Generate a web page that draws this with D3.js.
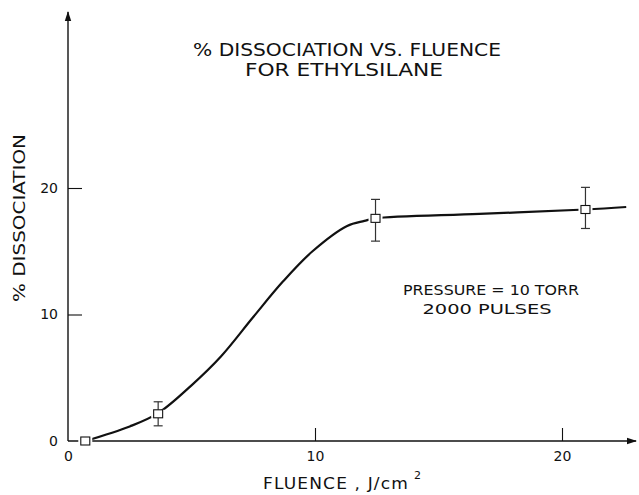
<!DOCTYPE html>
<html>
<head>
<meta charset="utf-8">
<script src="https://cdn.jsdelivr.net/npm/d3@7"></script>
<style>
  body { margin: 0; background: #fff; }
  svg text { font-family: "DejaVu Sans", sans-serif; fill: #111; }
</style>
</head>
<body>
<svg id="chart" width="639" height="495"></svg>
<script>
// measured points with error bars
var fluence  = [0.7, 3.65, 12.45, 20.95];
var dissoc   = [0, 2.15, 17.6, 18.3];
var errLow   = [null, 1.2, 15.8, 16.8];
var errHigh  = [null, 3.1, 19.1, 20.05];

// hand drawn curve
var curveX = [0.7, 2.5, 3.65, 5.0, 6.2, 7.5, 8.7, 9.9, 11.3, 12.0, 12.45, 16.65, 20.95, 22.6];
var curveY = [0, 1.15, 2.2, 4.4, 6.7, 9.8, 12.6, 15.0, 17.0, 17.4, 17.6, 17.95, 18.3, 18.5];

var xTicks = [0, 10, 20];
var yTicks = [0, 10, 20];

var svg = d3.select("#chart");

var x = d3.scaleLinear().domain([0, 20]).range([68, 562]);
var y = d3.scaleLinear().domain([0, 20]).range([441, 188]);

var ink = "#111";

// arrowheads
var defs = svg.append("defs");
defs.append("marker")
    .attr("id", "arrow")
    .attr("viewBox", "0 0 10 10")
    .attr("refX", 9).attr("refY", 5)
    .attr("markerWidth", 10).attr("markerHeight", 8)
    .attr("markerUnits", "userSpaceOnUse")
    .attr("orient", "auto")
    .attr("preserveAspectRatio", "none")
  .append("path")
    .attr("d", "M0,1 L10,5 L0,9 Z")
    .attr("fill", ink);

// axis lines
svg.append("line")
    .attr("x1", x(0)).attr("y1", y(0))
    .attr("x2", x(0)).attr("y2", 12)
    .attr("stroke", ink).attr("stroke-width", 1.4)
    .attr("marker-end", "url(#arrow)");
svg.append("line")
    .attr("x1", x(0)).attr("y1", y(0))
    .attr("x2", 636).attr("y2", y(0))
    .attr("stroke", ink).attr("stroke-width", 1.4)
    .attr("marker-end", "url(#arrow)");

// ticks + labels
var yAxis = svg.append("g")
    .attr("transform", "translate(" + x(0) + ",0)")
    .call(d3.axisLeft(y).tickValues(yTicks).tickSize(-14).tickPadding(10));
var xAxis = svg.append("g")
    .attr("transform", "translate(0," + y(0) + ")")
    .call(d3.axisBottom(x).tickValues(xTicks).tickSize(-13).tickPadding(10));

[yAxis, xAxis].forEach(function(a) {
  a.select(".domain").remove();
  a.selectAll("line").attr("stroke", ink).attr("stroke-width", 1.1);
  a.selectAll("text")
      .style("font-family", "DejaVu Sans, sans-serif")
      .attr("font-size", 14)
      .attr("fill", ink);
});
// no tick marks at the origin
yAxis.selectAll(".tick").filter(function(d) { return d === 0; }).select("line").remove();
xAxis.selectAll(".tick").filter(function(d) { return d === 0; }).select("line").remove();

// the curve
var pts = curveX.map(function(v, i) { return [v, curveY[i]]; });
var line = d3.line()
    .x(function(d) { return x(d[0]); })
    .y(function(d) { return y(d[1]); })
    .curve(d3.curveCatmullRom.alpha(0.5));
svg.append("path")
    .datum(pts)
    .attr("d", line)
    .attr("fill", "none")
    .attr("stroke", ink)
    .attr("stroke-width", 2.2);

// error bars
var pd = fluence.map(function(f, i) {
  return { x: f, y: dissoc[i], lo: errLow[i], hi: errHigh[i] };
});
var eb = svg.append("g").selectAll("g")
    .data(pd.filter(function(d) { return d.lo !== null; }))
    .enter().append("g");
eb.append("line")
    .attr("x1", function(d) { return x(d.x); }).attr("x2", function(d) { return x(d.x); })
    .attr("y1", function(d) { return y(d.lo); }).attr("y2", function(d) { return y(d.hi); })
    .attr("stroke", "#333").attr("stroke-width", 1.2);
eb.selectAll(".cap")
    .data(function(d) { return [[d.x, d.lo], [d.x, d.hi]]; })
    .enter().append("line")
    .attr("x1", function(d) { return x(d[0]) - 4.5; }).attr("x2", function(d) { return x(d[0]) + 4.5; })
    .attr("y1", function(d) { return y(d[1]); }).attr("y2", function(d) { return y(d[1]); })
    .attr("stroke", "#333").attr("stroke-width", 1.2);

// squares with a white halo so the curve breaks around them
var sq = svg.append("g").selectAll("g").data(pd).enter().append("g")
    .attr("transform", function(d) { return "translate(" + x(d.x) + "," + y(d.y) + ")"; });
sq.append("rect")
    .attr("x", -7).attr("y", -4).attr("width", 14).attr("height", 8)
    .attr("fill", "#fff");
sq.append("rect")
    .attr("x", -4.5).attr("y", -4).attr("width", 9).attr("height", 8)
    .attr("fill", "#fff").attr("stroke", ink).attr("stroke-width", 1.1);

// titles and notes
function label(txt, cx, cy, len, size, rot) {
  var t = svg.append("text")
      .attr("text-anchor", "middle")
      .attr("font-size", size)
      .attr("textLength", len)
      .attr("lengthAdjust", "spacingAndGlyphs")
      .text(txt);
  if (rot) t.attr("transform", "translate(" + cx + "," + cy + ") rotate(-90)");
  else t.attr("x", cx).attr("y", cy);
  return t;
}
label("% DISSOCIATION  VS. FLUENCE", 347, 56, 308, 18);
label("FOR  ETHYLSILANE", 344, 76, 198, 18);
label("PRESSURE = 10 TORR", 491, 295, 176, 14);
label("2000 PULSES", 487, 314, 129, 14);
label("% DISSOCIATION", 25, 218, 168, 15, true);

label("FLUENCE , J/cm", 336, 489, 146, 15).attr("letter-spacing", 1);
svg.append("text")
    .attr("x", 414).attr("y", 479)
    .attr("font-size", 11)
    .text("2");
</script>
</body>
</html>
